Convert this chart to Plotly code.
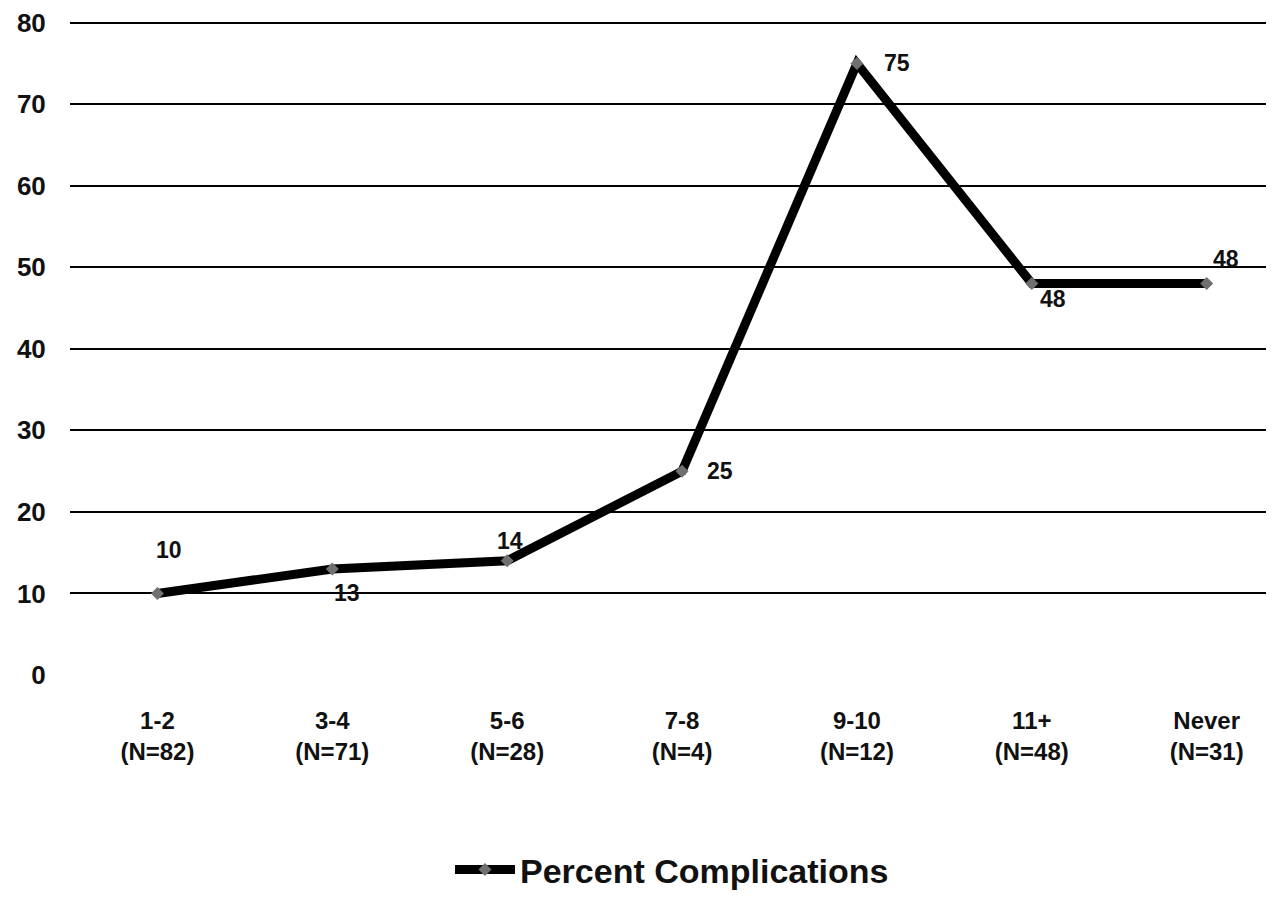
import plotly.graph_objects as go

categories = ["1-2<br>(N=82)", "3-4<br>(N=71)", "5-6<br>(N=28)", "7-8<br>(N=4)",
              "9-10<br>(N=12)", "11+<br>(N=48)", "Never<br>(N=31)"]
percent = [10, 13, 14, 25, 75, 48, 48]
label_text = ["10", "13", "14", "25", "75", "48", "48"]
y_ticks = [0, 10, 20, 30, 40, 50, 60, 70, 80]

# label placement offsets (pixels) around each point
label_dx = [12, 15, 3, 38, 40, 21, 19]
label_dy = [43, -24, 20, 0, 0, -15, 25]

FONT = "Arial, Liberation Sans, sans-serif"

fig = go.Figure()
fig.add_trace(go.Scatter(
    x=categories, y=percent, mode="lines+markers", name="<b>Percent Complications</b>",
    line=dict(color="black", width=9),
    marker=dict(symbol="diamond", size=10, color="#707070"),
))

for c, v, t, dx, dy in zip(categories, percent, label_text, label_dx, label_dy):
    fig.add_annotation(x=c, y=v, text="<b>%s</b>" % t, showarrow=False,
                       xshift=dx, yshift=dy,
                       font=dict(family=FONT, size=23, color="#111"))

# page body has an 8px default margin, so the figure is sized/offset accordingly
fig.update_layout(
    width=1266, height=889,
    margin=dict(l=62, r=0, t=13, b=222, autoexpand=False),
    plot_bgcolor="white", paper_bgcolor="white",
    font=dict(family=FONT, color="#111"),
    showlegend=True,
    legend=dict(orientation="h", x=0.5, xanchor="center", y=-0.298, yanchor="middle",
                font=dict(family=FONT, size=34, color="#111"),
                itemwidth=60),
    xaxis=dict(
        type="category", showgrid=False, zeroline=False, showline=False,
        range=[-0.5, 6.385],
        ticks="outside", ticklen=0, ticklabelstandoff=24,
        tickfont=dict(family=FONT, size=24, color="#111"),
        tickvals=categories,
        ticktext=["<b>%s</b>" % c for c in categories],
        ticklabeloverflow="allow",
    ),
    yaxis=dict(
        range=[0, 80.2], tickvals=y_ticks,
        ticktext=["<b>%d</b>" % v for v in y_ticks],
        showgrid=True, gridcolor="black", gridwidth=2,
        zeroline=True, zerolinecolor="white", zerolinewidth=3,
        showline=False, ticks="outside", ticklen=0, ticklabelstandoff=18,
        tickfont=dict(family=FONT, size=26, color="#111"),
        ticklabeloverflow="allow",
    ),
)

fig.write_html("out.html")
